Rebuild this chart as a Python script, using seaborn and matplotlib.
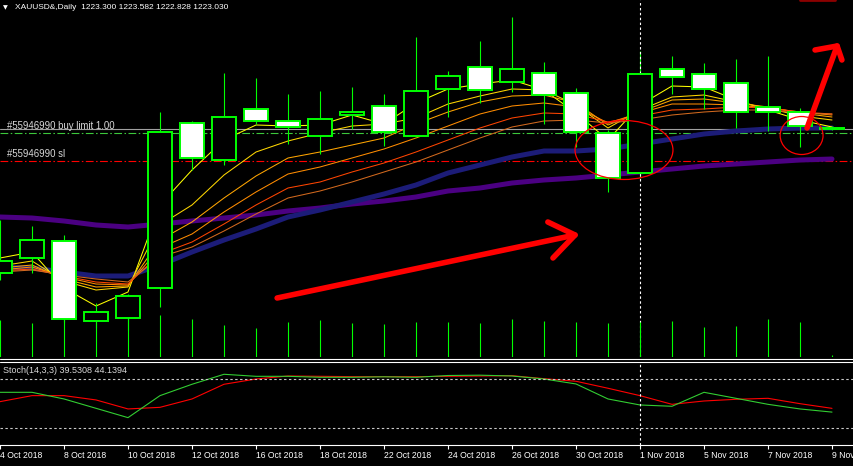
import numpy as np
import pandas as pd
import matplotlib
matplotlib.use("Agg")
import matplotlib.pyplot as plt
import seaborn as sns
from matplotlib.patches import Ellipse
from matplotlib.lines import Line2D

# --- data (XAUUSD daily) ---
dates = ["4 Oct", "5 Oct", "8 Oct", "9 Oct", "10 Oct", "11 Oct", "12 Oct", "15 Oct", "16 Oct",
         "17 Oct", "18 Oct", "19 Oct", "22 Oct", "23 Oct", "24 Oct", "25 Oct", "26 Oct", "29 Oct",
         "30 Oct", "31 Oct", "1 Nov", "2 Nov", "5 Nov", "6 Nov", "7 Nov", "8 Nov", "9 Nov"]
opens = [1194.2, 1197.2, 1200.6, 1184.6, 1185.2, 1191.2, 1224.2, 1216.8, 1227.0, 1224.6, 1221.6,
         1225.8, 1227.6, 1221.6, 1231.0, 1235.4, 1232.4, 1234.2, 1230.2, 1222.2, 1214.2, 1235.0,
         1234.0, 1232.2, 1227.4, 1226.4, 1223.3]
highs = [1204.8, 1203.6, 1201.8, 1188.2, 1190.0, 1226.4, 1224.6, 1234.2, 1233.2, 1230.0, 1230.6,
         1231.4, 1230.0, 1241.4, 1234.6, 1240.6, 1245.4, 1236.4, 1231.2, 1222.8, 1238.6, 1237.6,
         1236.2, 1237.0, 1237.6, 1227.2, 1223.58]
lows = [1192.8, 1194.2, 1184.4, 1183.2, 1182.8, 1187.4, 1214.8, 1215.8, 1224.0, 1220.0, 1218.0,
        1223.0, 1219.6, 1221.4, 1225.4, 1228.2, 1230.4, 1224.0, 1219.4, 1210.4, 1213.2, 1230.0,
        1227.0, 1223.2, 1222.6, 1219.4, 1222.83]
closes = [1196.6, 1200.8, 1185.0, 1186.4, 1189.6, 1222.4, 1217.2, 1225.4, 1224.6, 1223.4, 1225.0,
          1226.4, 1222.4, 1230.6, 1233.6, 1230.8, 1235.0, 1229.8, 1222.4, 1213.2, 1234.0, 1233.4,
          1231.0, 1226.4, 1226.4, 1223.6, 1223.03]
volumes = [37000, 34000, 38000, 35000, 39000, 42000, 38000, 32000, 29000, 35000, 37000, 34000,
           33000, 35000, 35000, 34000, 38000, 36000, 35000, 34000, 35000, 36000, 30000, 31000,
           38000, 35000, 2000]

# moving-average ribbon (fast -> slow)
ma1 = [1197.2, 1198.4, 1191.2, 1187.6, 1190.4, 1207.8, 1214.8, 1220.8, 1223.8, 1223.6, 1223.8,
       1225.8, 1224.0, 1228.2, 1231.0, 1232.0, 1232.8, 1230.8, 1226.2, 1220.8, 1227.8, 1231.6,
       1231.4, 1228.8, 1226.8, 1224.8, 1223.4]
ma2 = [1195.6, 1196.6, 1192.6, 1190.8, 1191.4, 1203.8, 1207.8, 1213.8, 1218.4, 1220.6, 1222.2,
       1223.6, 1224.0, 1225.2, 1228.0, 1229.6, 1231.0, 1230.8, 1227.8, 1223.2, 1226.8, 1229.4,
       1229.8, 1228.4, 1227.2, 1225.6, 1224.8]
ma3 = [1195.2, 1195.8, 1193.0, 1191.4, 1191.6, 1200.8, 1204.4, 1209.2, 1213.6, 1217.2, 1218.4,
       1219.8, 1221.2, 1224.0, 1226.4, 1228.4, 1229.6, 1229.8, 1228.2, 1223.8, 1226.4, 1228.8,
       1229.0, 1228.2, 1227.4, 1226.2, 1225.4]
ma4 = [1194.8, 1195.4, 1193.4, 1192.0, 1191.8, 1199.2, 1202.0, 1206.4, 1210.4, 1214.0, 1215.4,
       1217.2, 1219.0, 1221.2, 1223.6, 1226.0, 1227.6, 1228.2, 1227.4, 1224.2, 1226.2, 1228.0,
       1228.0, 1227.8, 1227.2, 1226.4, 1225.8]
ma5 = [1194.6, 1195.0, 1193.6, 1192.4, 1192.0, 1198.0, 1200.4, 1204.0, 1207.8, 1211.2, 1212.4,
       1214.4, 1216.2, 1218.4, 1220.8, 1223.2, 1225.2, 1226.2, 1226.0, 1224.4, 1225.6, 1226.8,
       1227.0, 1227.4, 1227.2, 1226.4, 1226.0]
ma6 = [1194.4, 1194.8, 1193.8, 1193.0, 1192.4, 1197.4, 1199.4, 1202.6, 1206.0, 1209.2, 1210.6,
       1212.4, 1214.4, 1216.4, 1218.8, 1221.2, 1223.4, 1224.6, 1224.8, 1224.2, 1224.8, 1225.8,
       1226.4, 1226.8, 1226.8, 1226.2, 1226.0]
ma_navy = [1195.4, 1195.2, 1194.4, 1193.6, 1193.6, 1195.8, 1198.4, 1200.8, 1203.0, 1205.4, 1206.8,
           1208.4, 1210.0, 1211.8, 1214.2, 1215.8, 1217.4, 1218.6, 1218.6, 1219.0, 1220.0, 1221.0,
           1222.0, 1222.6, 1223.0, 1223.2, 1223.2]
ma_purple = [1205.4, 1205.2, 1204.6, 1203.8, 1203.4, 1204.0, 1204.6, 1205.2, 1205.8, 1206.6, 1207.2,
             1208.0, 1208.6, 1209.4, 1210.6, 1211.2, 1212.2, 1212.8, 1213.2, 1213.8, 1214.4, 1215.0,
             1215.6, 1216.0, 1216.4, 1216.8, 1217.0]

# Stochastic (14,3,3)
stoch_main = [63.9, 63.9, 55.7, 44.2, 32.7, 59.8, 73.8, 86.1, 83.6, 83.6, 82.4, 82.4, 83.0, 82.4,
              84.6, 85.0, 84.0, 80.3, 74.2, 55.7, 48.3, 46.7, 63.9, 56.5, 49.1, 43.4, 39.53]
stoch_signal = [52.4, 59.8, 59.8, 54.5, 43.4, 45.4, 55.7, 73.8, 80.3, 84.0, 83.6, 83.2, 83.2, 83.2,
                83.6, 84.0, 84.4, 80.7, 77.5, 68.9, 59.8, 49.1, 53.2, 55.3, 56.5, 49.9, 44.14]

tick_labels = ["4 Oct 2018", "8 Oct 2018", "10 Oct 2018", "12 Oct 2018", "16 Oct 2018",
               "18 Oct 2018", "22 Oct 2018", "24 Oct 2018", "26 Oct 2018", "30 Oct 2018",
               "1 Nov 2018", "5 Nov 2018", "7 Nov 2018", "9 Nov 2018"]

bid_price = 1223.03
buy_limit = 1222.2
stop_loss = 1216.7

# --- style ---
sns.set_style("dark", rc={"axes.facecolor": "black", "figure.facecolor": "black"})
plt.rcParams['font.family'] = ['Liberation Sans', 'DejaVu Sans']

W, H = 854, 466
LIME = '#00FF00'


def px_rect(left, top, width, height):
    return [left / W, 1 - (top + height) / H, width / W, height / H]


fig = plt.figure(figsize=(W / 100, H / 100), dpi=100, facecolor='black')
ax = fig.add_axes(px_rect(0, 0, W, 357))
ax_s = fig.add_axes(px_rect(0, 363, W, 82))

idx = np.arange(len(dates))
xmax = W / 32.0

df = pd.DataFrame({'idx': idx, 'open': opens, 'high': highs, 'low': lows, 'close': closes})

# --- main panel: volumes ---
ax_v = ax.twinx()
ax_v.set_ylim(0, 357000)
ax_v.vlines(idx, 0, volumes, color=LIME, lw=0.8)
ax_v.set_axis_off()

# --- moving averages ---
ribbon = [(ma1, '#FFFF00'), (ma2, '#FFD700'), (ma3, '#FFA500'),
          (ma4, '#FF8C00'), (ma5, '#FF4500'), (ma6, '#D2691E')]
sns.lineplot(x=idx, y=ma_purple, ax=ax, color='#4B0082', lw=3.6, zorder=2)
sns.lineplot(x=idx, y=ma_navy, ax=ax, color='#1C1C78', lw=3.6, zorder=2)
for vals, col in ribbon:
    sns.lineplot(x=idx, y=vals, ax=ax, color=col, lw=0.75, zorder=3)

# --- order lines ---
ax.axhline(bid_price, color='#A0A0A0', lw=0.8, zorder=1.5)
ax.axhline(buy_limit, color='#3CC83C', lw=0.8, dashes=(7, 2.2, 1.4, 2.2), zorder=1.5)
ax.axhline(stop_loss, color='#FF0000', lw=0.8, dashes=(7, 2.2, 1.4, 2.2), zorder=1.5)
ax.annotate("#55946990 buy limit 1.00", xy=(0.22, buy_limit), xytext=(0, 1.4),
            textcoords='offset points', va='bottom', ha='left', color='#D8D8D8', fontsize=6.9, zorder=6)
ax.annotate("#55946990 sl", xy=(0.22, stop_loss), xytext=(0, 1.4),
            textcoords='offset points', va='bottom', ha='left', color='#D8D8D8', fontsize=6.9, zorder=6)

# --- candles ---
bull = df['close'] >= df['open']
body_low = np.minimum(df['open'], df['close'])
body_h = (df['close'] - df['open']).abs()
ax.vlines(df['idx'], df['low'], df['high'], color=LIME, lw=0.8, zorder=4)
ax.bar(df['idx'], body_h, bottom=body_low, width=0.75,
       color=np.where(bull, 'black', 'white'), edgecolor=LIME, linewidth=1.4, zorder=5)

# period separator
ax.axvline(20, color='white', lw=0.8, dashes=(2.2, 2.2), zorder=4.5)

# --- hand-drawn annotations ---
red_kw = dict(color='#FF0000', lw=4, solid_capstyle='round', zorder=7)
ax.plot([8.66, 17.97], [1189.2, 1201.8], **red_kw)
ax.plot([17.12, 17.97, 17.28], [1204.4, 1201.8, 1197.2], **red_kw)
ax.plot([25.22, 26.16], [1223.2, 1239.6], **red_kw)
ax.plot([25.47, 26.16, 26.31], [1238.8, 1239.6, 1236.8], **red_kw)
ax.plot([25.0, 26.1], [1248.7, 1248.7], color='#8B0000', lw=2, zorder=7)
ax.add_patch(Ellipse((19.5, 1218.8), 3.06, 11.8, fill=False, edgecolor='#FF0000', lw=0.9, zorder=7))
ax.add_patch(Ellipse((25.05, 1221.7), 1.34, 7.6, fill=False, edgecolor='#FF0000', lw=0.9, zorder=7))

ax.set_xlim(0, xmax)
ax.set_ylim(1177.4, 1248.8)
ax_v.set_xlim(0, xmax)
ax.set_axis_off()

# --- stochastic panel ---
sns.lineplot(x=idx, y=stoch_signal, ax=ax_s, color='#FF0000', lw=0.8)
sns.lineplot(x=idx, y=stoch_main, ax=ax_s, color='#32CD32', lw=0.8)
for lvl in (80, 20):
    ax_s.axhline(lvl, color='#C8C8C8', lw=0.8, dashes=(2.2, 2.2))
ax_s.axvline(20, color='white', lw=0.8, dashes=(2.2, 2.2))
ax_s.set_xlim(0, xmax)
ax_s.set_ylim(-1, 100)
ax_s.set_facecolor('black')
for side in ('top', 'left', 'right'):
    ax_s.spines[side].set_visible(False)
ax_s.spines['bottom'].set_color('white')
ax_s.spines['bottom'].set_linewidth(0.8)
ax_s.set_yticks([])
ax_s.set_xticks(idx[::2])
ax_s.set_xticklabels(tick_labels)
ax_s.tick_params(axis='x', colors='white', direction='out', length=3, width=0.8,
                 labelsize=6.2, pad=1.5, bottom=True)
for lab in ax_s.get_xticklabels():
    lab.set_ha('left')
ax_s.set_xlabel('')
ax_s.set_ylabel('')
ax_s.grid(False)

# separators between panels
for ypx in (358.5, 361.5):
    fig.add_artist(Line2D([0, 1], [1 - ypx / H, 1 - ypx / H], color='white', lw=0.8))

# --- header texts ---
fig.text(3 / W, 1 - 7.5 / H, "\u25BC", color='white', fontsize=4.5, va='center',
         family=['DejaVu Sans'])
fig.text(15 / W, 1 - 7.5 / H, "XAUUSD&,Daily  1223.300 1223.582 1222.828 1223.030",
         color='white', fontsize=6, va='center')
fig.text(3 / W, 1 - 370.5 / H, "Stoch(14,3,3) 39.5308 44.1394", color='#D8D8D8',
         fontsize=6.5, va='center')

fig.savefig("out.png", dpi=100, facecolor='black')
